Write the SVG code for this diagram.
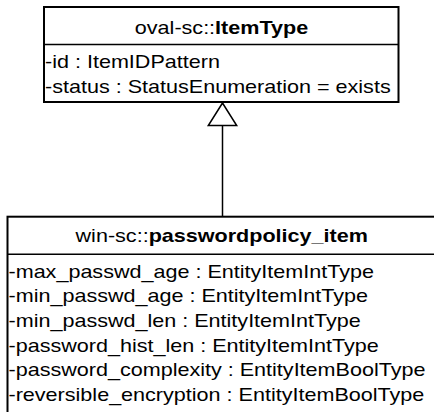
<svg xmlns="http://www.w3.org/2000/svg" width="434" height="412" viewBox="0 0 434 412">
  <style>
    .box { fill: #ffffff; stroke: #000000; stroke-width: 2; }
    .sep { stroke: #000000; stroke-width: 1.5; }
    .t { font-family: "Liberation Sans", Arial, sans-serif; font-size: 18.6px; fill: #000000; }
    .b { font-weight: bold; }
    .edge { stroke: #000000; stroke-width: 1.5; fill: none; }
    .tri { fill: #ffffff; stroke: #000000; stroke-width: 1.5; }
  </style>
  <rect width="434" height="412" fill="#ffffff"/>
  <g id="connectors">
    <line class="edge" x1="222.5" y1="125.5" x2="222.5" y2="216.5"/>
    <polygon class="tri" points="222.5,103 208.3,125.5 236.7,125.5"/>
  </g>
  <g id="ItemType">
    <rect class="box" x="44" y="7" width="354.5" height="95"/>
    <line class="sep" x1="44" y1="44.5" x2="398.5" y2="44.5"/>
    <text class="t" transform="matrix(1.16 0 0 1 221.5 33.5)" text-anchor="middle">oval-sc::<tspan class="b">ItemType</tspan></text>
    <text class="t" transform="matrix(1.16 0 0 1 45 68.3)">-id : ItemIDPattern</text>
    <text class="t" transform="matrix(1.16 0 0 1 45 93.3)">-status : StatusEnumeration = exists</text>
  </g>
  <g id="passwordpolicy_item">
    <rect class="box" x="7.5" y="216.7" width="430" height="205"/>
    <line class="sep" x1="7.5" y1="254.3" x2="437.5" y2="254.3"/>
    <text class="t" transform="matrix(1.16 0 0 1 221.7 241.7)" text-anchor="middle">win-sc::<tspan class="b">passwordpolicy_item</tspan></text>
    <text class="t" transform="matrix(1.16 0 0 1 8.5 277.5)">-max_passwd_age : EntityItemIntType</text>
    <text class="t" transform="matrix(1.16 0 0 1 8.5 302.2)">-min_passwd_age : EntityItemIntType</text>
    <text class="t" transform="matrix(1.16 0 0 1 8.5 326.9)">-min_passwd_len : EntityItemIntType</text>
    <text class="t" transform="matrix(1.16 0 0 1 8.5 351.6)">-password_hist_len : EntityItemIntType</text>
    <text class="t" transform="matrix(1.16 0 0 1 8.5 376.3)">-password_complexity : EntityItemBoolType</text>
    <text class="t" transform="matrix(1.16 0 0 1 8.5 401)">-reversible_encryption : EntityItemBoolType</text>
  </g>
</svg>
